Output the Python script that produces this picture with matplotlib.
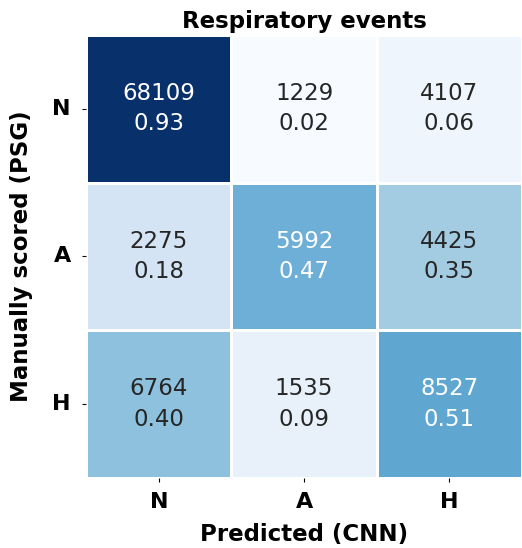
import matplotlib
matplotlib.use("Agg")
import matplotlib.pyplot as plt
import seaborn as sns
import numpy as np

classes = ["N", "A", "H"]
counts = [[68109, 1229, 4107],
          [2275, 5992, 4425],
          [6764, 1535, 8527]]
ratios = [[0.93, 0.02, 0.06],
          [0.18, 0.47, 0.35],
          [0.40, 0.09, 0.51]]

labels = np.array([[f"{c}\n{r:.2f}" for c, r in zip(crow, rrow)]
                   for crow, rrow in zip(counts, ratios)])

fig = plt.figure(figsize=(5.22, 5.48), dpi=100)
ax = fig.add_axes([0.165, 0.128, 0.835, 0.808])
sns.heatmap(np.array(ratios), annot=labels, fmt="", cmap="Blues", cbar=False,
            linewidths=1.0, linecolor="white", ax=ax,
            annot_kws={"fontsize": 16.5, "linespacing": 1.4},
            xticklabels=classes, yticklabels=classes)
ax.set_title("Respiratory events", fontsize=16.5, fontweight="bold", pad=5)
ax.set_xlabel("Predicted (CNN)", fontsize=16.5, fontweight="bold", labelpad=8)
ax.set_ylabel("Manually scored (PSG)", fontsize=16.5, fontweight="bold", labelpad=14)
ax.tick_params(axis="x", labelsize=16, length=3, width=0.8, pad=7)
ax.tick_params(axis="y", labelsize=16, length=3, width=0.8, pad=8)
for t in ax.get_xticklabels() + ax.get_yticklabels():
    t.set_fontweight("bold")
plt.setp(ax.get_yticklabels(), rotation=0)
fig.savefig("out.png", dpi=100)
